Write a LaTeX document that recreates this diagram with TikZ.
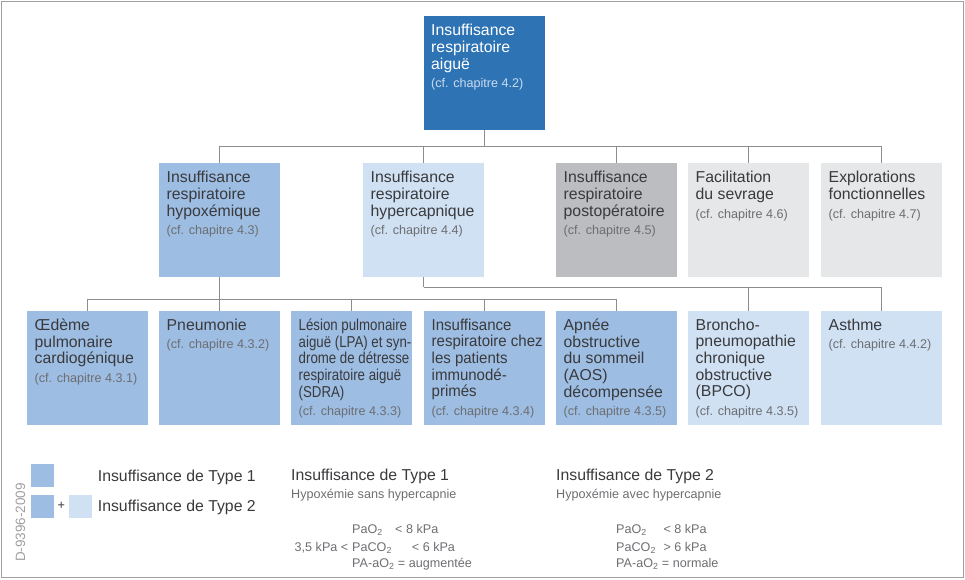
\documentclass[tikz,border=0pt]{standalone}
\usepackage{fontspec}
\setmainfont{Liberation Sans}

\definecolor{darkblue}{HTML}{2E74B5}
\definecolor{midblue}{HTML}{9DBDE3}
\definecolor{lightblue}{HTML}{D0E1F4}
\definecolor{darkgrey}{HTML}{BCBDC0}
\definecolor{lightgrey}{HTML}{E6E7E8}
\definecolor{textgrey}{HTML}{3A3A3C}
\definecolor{chapgrey}{HTML}{6D6E71}
\definecolor{chapwhite}{HTML}{C9DAF0}
\definecolor{linegrey}{HTML}{8C8C8C}
\definecolor{framegrey}{HTML}{A0A0A0}

\newcommand{\mainsize}{\fontsize{15.8}{16.7}\selectfont}
\newcommand{\smallsize}{\fontsize{12.6}{16.7}\selectfont}
\newcommand{\chap}[1]{\\[2pt]{\normalfont\smallsize\color{chapgrey}(cf. chapitre #1)}}

\tikzset{
  blk/.style={anchor=north west, minimum width=121pt, minimum height=114pt, inner sep=0pt},
  blktext/.style={anchor=north west, align=left, inner sep=0pt, font=\mainsize, text=textgrey},
  conn/.style={draw=linegrey, line width=0.8pt},
  legsq/.style={anchor=north west, minimum size=23pt, inner sep=0pt},
  legtext/.style={anchor=base west, inner sep=0pt, font=\mainsize, text=textgrey},
  legsmall/.style={anchor=base west, inner sep=0pt, font=\smallsize, text=chapgrey}
}

\begin{document}
\begin{tikzpicture}[x=1pt,y=-1pt]
\useasboundingbox (0,0) rectangle (965,580);
\draw[framegrey, line width=1.2pt] (1.5,1.5) rectangle (963.5,577.5);

% top
\node[blk, fill=darkblue] (ira) at (424,16) {};
\node[blktext, text=white] (ira-t) at ([xshift=7pt,yshift=-8pt]ira.north west)
  {Insuffisance\\respiratoire\\aiguë\\[2pt]{\smallsize\color{chapwhite}(cf. chapitre 4.2)}};

% second row
\node[blk, fill=midblue] (hypox) at (159,163) {};
\node[blktext] (hypox-t) at ([xshift=7.5pt,yshift=-8pt]hypox.north west)
  {Insuffisance\\respiratoire\\hypoxémique\chap{4.3}};
\node[blk, fill=lightblue] (hypercap) at (363,163) {};
\node[blktext] (hypercap-t) at ([xshift=7.5pt,yshift=-8pt]hypercap.north west)
  {Insuffisance\\respiratoire\\hypercapnique\chap{4.4}};
\node[blk, fill=darkgrey] (postop) at (556,163) {};
\node[blktext] (postop-t) at ([xshift=7.5pt,yshift=-8pt]postop.north west)
  {Insuffisance\\respiratoire\\postopératoire\chap{4.5}};
\node[blk, fill=lightgrey] (sevrage) at (688,163) {};
\node[blktext] (sevrage-t) at ([xshift=7.5pt,yshift=-8pt]sevrage.north west)
  {Facilitation\\du sevrage\chap{4.6}};
\node[blk, fill=lightgrey] (explor) at (821,163) {};
\node[blktext] (explor-t) at ([xshift=7.5pt,yshift=-8pt]explor.north west)
  {Explorations\\fonctionnelles\chap{4.7}};

% third row
\node[blk, fill=midblue] (oedeme) at (27,311) {};
\node[blktext] (oedeme-t) at ([xshift=7.5pt,yshift=-7.5pt]oedeme.north west)
  {Œdème\\pulmonaire\\cardiogénique\chap{4.3.1}};
\node[blk, fill=midblue] (pneumo) at (159,311) {};
\node[blktext] (pneumo-t) at ([xshift=7.5pt,yshift=-7.5pt]pneumo.north west)
  {Pneumonie\chap{4.3.2}};
\node[blk, fill=midblue] (lesion) at (291,311) {};
\node[blktext, font=\mainsize\addfontfeature{FakeStretch=0.84}] (lesion-t) at ([xshift=7.5pt,yshift=-7.5pt]lesion.north west)
  {Lésion pulmonaire\\aiguë (LPA) et syn-\\drome de détresse\\respiratoire aiguë\\(SDRA)\chap{4.3.3}};
\node[blk, fill=midblue] (immuno) at (424,311) {};
\node[blktext, font=\mainsize\addfontfeature{FakeStretch=0.95}] (immuno-t) at ([xshift=7.5pt,yshift=-7.5pt]immuno.north west)
  {Insuffisance\\respiratoire chez\\les patients\\immunodé-\\primés\chap{4.3.4}};
\node[blk, fill=midblue] (aos) at (556,311) {};
\node[blktext] (aos-t) at ([xshift=7.5pt,yshift=-7.5pt]aos.north west)
  {Apnée\\obstructive\\du sommeil\\(AOS)\\décompensée\chap{4.3.5}};
\node[blk, fill=lightblue] (bpco) at (688,311) {};
\node[blktext] (bpco-t) at ([xshift=7.5pt,yshift=-7.5pt]bpco.north west)
  {Broncho-\\pneumopathie\\chronique\\obstructive\\(BPCO)\chap{4.3.5}};
\node[blk, fill=lightblue] (asthme) at (821,311) {};
\node[blktext] (asthme-t) at ([xshift=7.5pt,yshift=-7.5pt]asthme.north west)
  {Asthme\chap{4.4.2}};

% connectors
\draw[conn] (ira.south) -- ++(0,16) coordinate (bus0);
\foreach \n in {hypox,hypercap,postop,sevrage,explor}
  \draw[conn] (bus0) -| (\n.north);
\draw[conn] (hypox.south) -- ++(0,22) coordinate (bus1);
\foreach \n in {oedeme,pneumo,lesion,immuno,aos}
  \draw[conn] (bus1) -| (\n.north);
\draw[conn] (hypercap.south) -- ++(0,10) coordinate (bus2);
\foreach \n in {bpco,asthme}
  \draw[conn] (bus2) -| (\n.north);

% legend
\node[rotate=90, inner sep=0pt, font=\fontsize{13.5}{16}\selectfont, text=framegrey] (dnum) at (20.5,522.5) {D-9396-2009};
\node[legsq, fill=midblue] (leg1) at (31,464) {};
\node[legsq, fill=midblue] (leg2a) at (31,495) {};
\node[inner sep=0pt, font=\smallsize, text=textgrey] (plus) at (61.3,505.8) {+};
\node[legsq, fill=lightblue] (leg2b) at (69,495) {};
\node[legtext] (leg1-t) at (97.7,481.7) {Insuffisance de Type 1};
\node[legtext] (leg2-t) at (97.7,511.7) {Insuffisance de Type 2};

% type 1
\node[legtext] (typ1) at (291,480.7) {Insuffisance de Type 1};
\node[legsmall] (typ1-sub) at (291,498.3) {Hypoxémie sans hypercapnie};
\node[legsmall] (typ1-pao) at (352,533.3) {PaO\textsubscript{2}};
\node[legsmall] (typ1-paov) at (395,533.3) {< 8 kPa};
\node[legsmall, anchor=base east] (typ1-lim) at (348.5,551) {3,5 kPa <};
\node[legsmall] (typ1-paco) at (352,551) {PaCO\textsubscript{2}};
\node[legsmall] (typ1-pacov) at (411.7,551) {< 6 kPa};
\node[legsmall] (typ1-grad) at (352,567.7) {PA-aO\textsubscript{2} = augmentée};

% type 2
\node[legtext] (typ2) at (556,480.7) {Insuffisance de Type 2};
\node[legsmall] (typ2-sub) at (556,498.3) {Hypoxémie avec hypercapnie};
\node[legsmall] (typ2-pao) at (616,533.3) {PaO\textsubscript{2}};
\node[legsmall] (typ2-paov) at (663.3,533.3) {< 8 kPa};
\node[legsmall] (typ2-paco) at (616,551) {PaCO\textsubscript{2}};
\node[legsmall] (typ2-pacov) at (663.3,551) {> 6 kPa};
\node[legsmall] (typ2-grad) at (616,567.7) {PA-aO\textsubscript{2} = normale};
\end{tikzpicture}
\end{document}
